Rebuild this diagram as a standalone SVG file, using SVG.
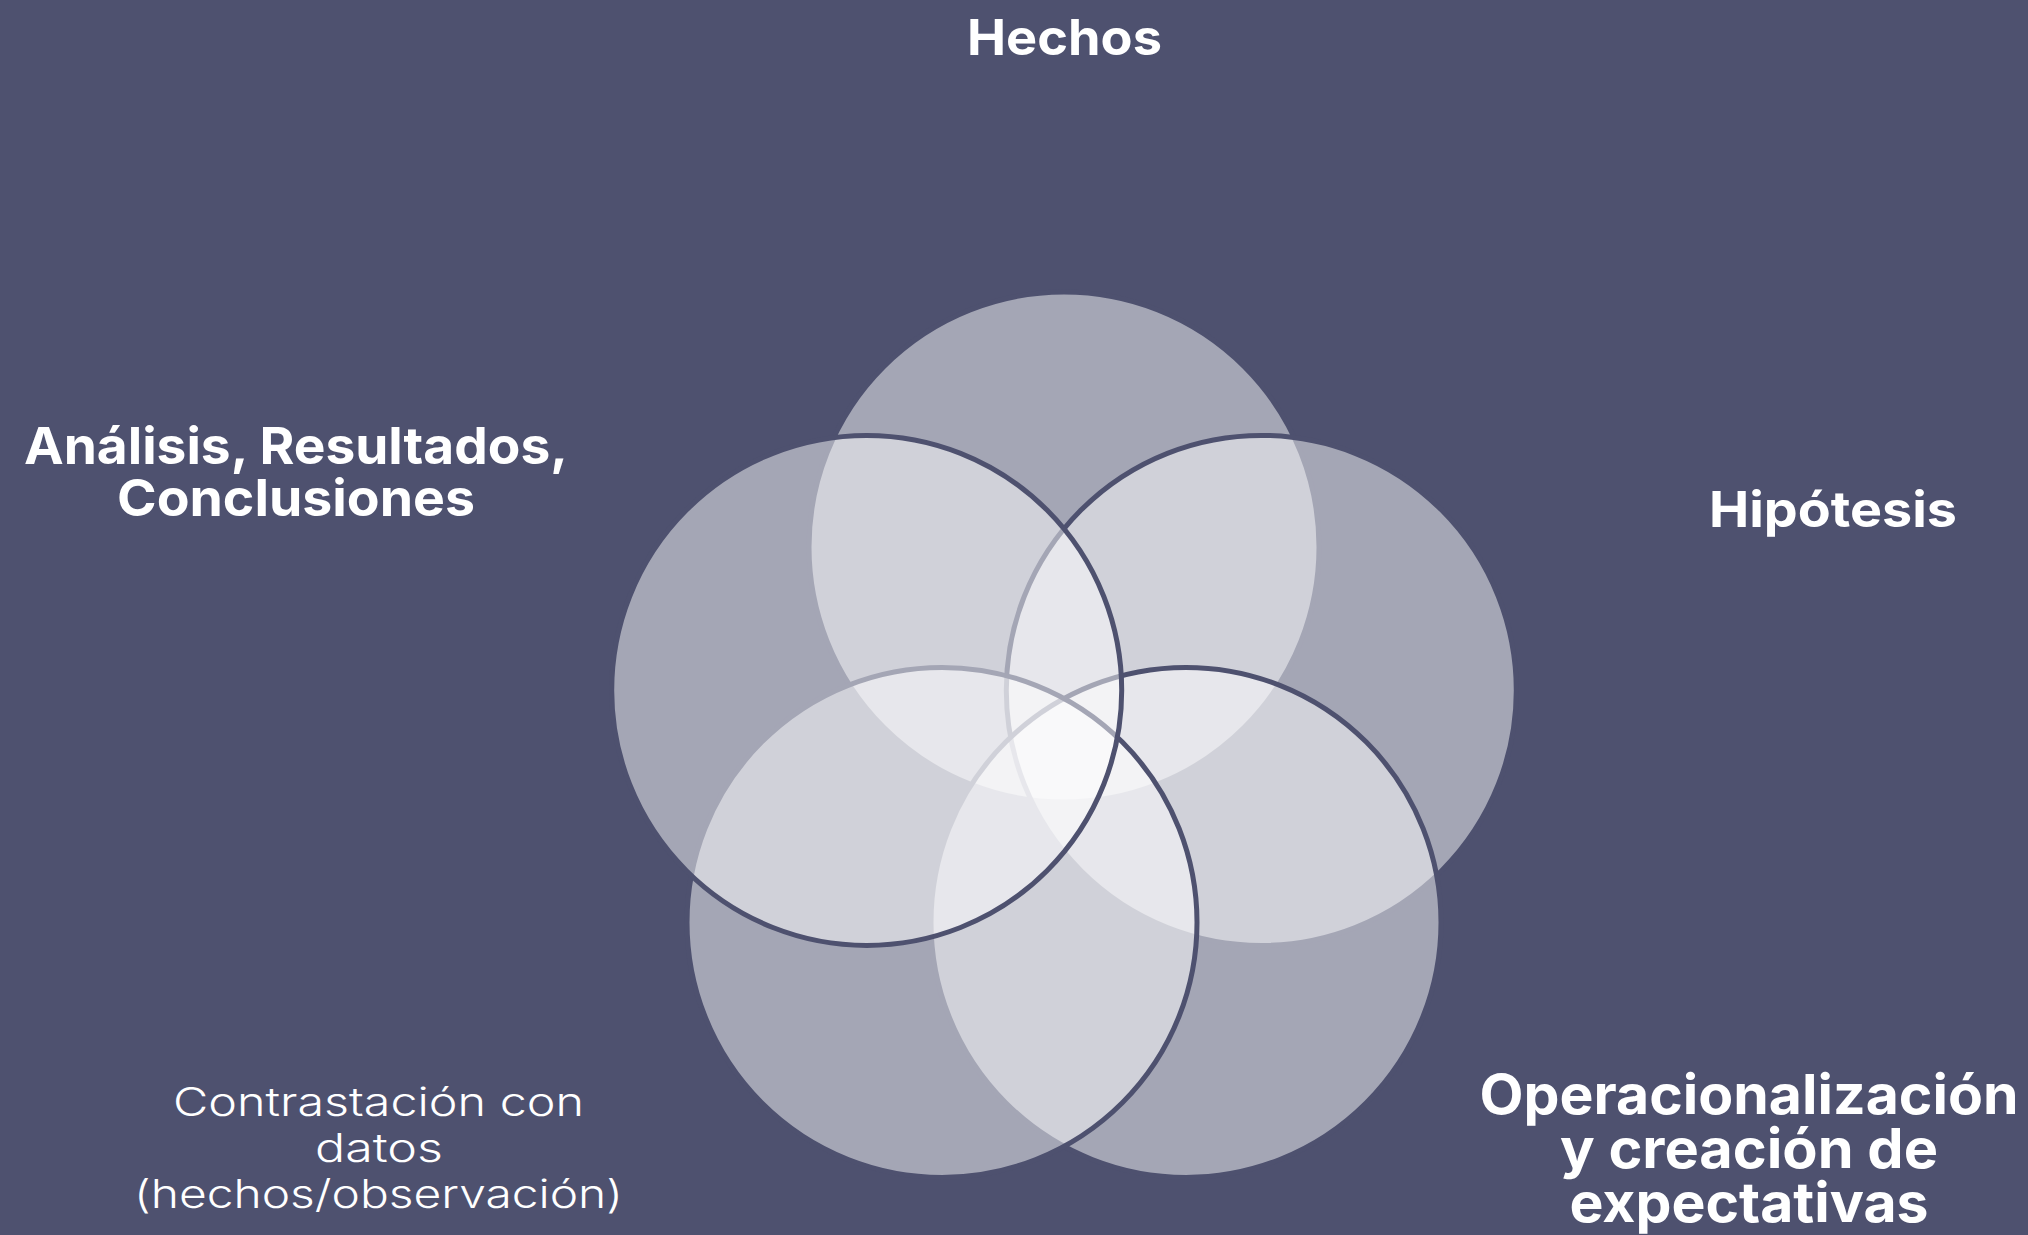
<svg xmlns="http://www.w3.org/2000/svg" width="2028" height="1235" viewBox="0 0 2028 1235">
<style>
.c{fill:#ffffff;fill-opacity:0.49;stroke:#4E516F;stroke-width:5}
.b{font-family:Inter,"Open Sans","Liberation Sans",sans-serif;font-weight:700;fill:#ffffff;text-anchor:middle}
.l{font-family:Inter,"Open Sans","Liberation Sans",sans-serif;font-weight:300;fill:#ffffff;text-anchor:middle}
</style>
<rect x="0" y="0" width="2028" height="1235" fill="#4E516F"/>
<g id="venn">
<g id="n-hechos"><circle class="c" cx="1064" cy="547" r="255"/></g>
<g id="n-hipotesis"><circle class="c" cx="1261.3" cy="690.4" r="255"/></g>
<g id="n-operacionalizacion"><circle class="c" cx="1186" cy="922.4" r="255"/></g>
<g id="n-contrastacion"><circle class="c" cx="942" cy="922.4" r="255"/></g>
<g id="n-analisis"><circle class="c" cx="866.7" cy="690.4" r="255"/></g>
</g>
<g id="connectors"></g>
<g id="labels">
<g id="t-hechos"><text class="b" x="1064.5" y="55" font-size="50" textLength="195" lengthAdjust="spacingAndGlyphs">Hechos</text></g>
<g id="t-analisis"><text class="b" x="296" y="464" font-size="51" textLength="544" lengthAdjust="spacingAndGlyphs">Análisis, Resultados,</text>
<text class="b" x="296" y="516" font-size="51" textLength="358" lengthAdjust="spacingAndGlyphs">Conclusiones</text></g>
<g id="t-hipotesis"><text class="b" x="1833" y="527" font-size="50" textLength="248" lengthAdjust="spacingAndGlyphs">Hipótesis</text></g>
<g id="t-operacionalizacion"><text class="b" x="1749" y="1114" font-size="55" textLength="539" lengthAdjust="spacingAndGlyphs">Operacionalización</text>
<text class="b" x="1749" y="1168" font-size="55" textLength="378" lengthAdjust="spacingAndGlyphs">y creación de</text>
<text class="b" x="1749" y="1222" font-size="55" textLength="359" lengthAdjust="spacingAndGlyphs">expectativas</text></g>
<g id="t-contrastacion"><text class="l" x="378.5" y="1116" font-size="39" textLength="411" lengthAdjust="spacingAndGlyphs">Contrastación con</text>
<text class="l" x="379" y="1162" font-size="39" textLength="128" lengthAdjust="spacingAndGlyphs">datos</text>
<text class="l" x="378.5" y="1208" font-size="39" textLength="489" lengthAdjust="spacingAndGlyphs">(hechos/observación)</text></g>
</g>
</svg>
